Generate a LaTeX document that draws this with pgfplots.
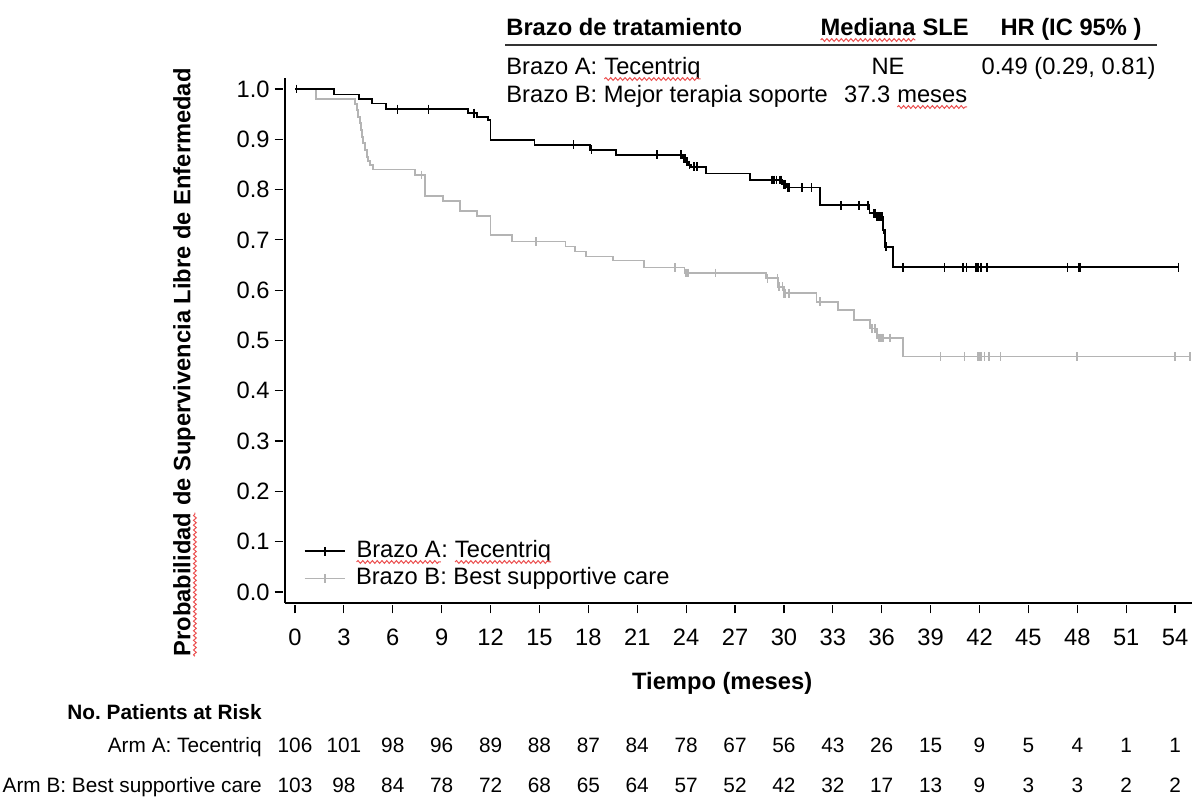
\documentclass[border=0pt]{standalone}
\usepackage{fontspec}
\setmainfont{Liberation Sans}
\usepackage{pgfplots}
\pgfplotsset{compat=1.18}
\usetikzlibrary{decorations.pathmorphing}
\definecolor{armB}{RGB}{180,180,180}
\definecolor{squigred}{RGB}{235,80,80}
\newcommand{\fmain}{\fontsize{11.85}{14}\selectfont}
\newcommand{\fsmall}{\fontsize{10.4}{12.5}\selectfont}
% spell-check style wavy underline
\newcommand{\squig}[1]{\tikz[baseline=(s.base)]{\node[inner sep=0pt, outer sep=0pt, anchor=base] (s) {#1};
  \draw[squigred, line width=0.5pt, decorate, decoration={snake, amplitude=0.7pt, segment length=2.4pt}]
  ([yshift=-2.3pt]s.base west) -- ([yshift=-2.3pt]s.base east);}}
\frenchspacing
\begin{document}
\frenchspacing
\begin{tikzpicture}
\useasboundingbox (0,0) rectangle (596pt,399pt);
\begin{axis}[
  at={(142.5pt,97.5pt)}, anchor=south west,
  scale only axis, width=453.5pt, height=262.5pt,
  xmin=-0.6136, xmax=55.04, ymin=-0.02187, ymax=1.02187,
  axis x line*=bottom, axis y line*=left,
  axis line style={line width=0.75pt, -},
  xtick={0,3,...,54},
  ytick={0,0.1,0.2,0.3,0.4,0.5,0.6,0.7,0.8,0.9,1.0},
  tick align=outside, major tick length=4.2pt,
  xtick style={line width=0.6pt, black, yshift=-1pt},
  ytick style={line width=0.6pt, black, xshift=-1pt},
  /pgf/number format/assume math mode=true,
  tick label style={font=\fmain},
  yticklabel style={/pgf/number format/.cd, fixed, fixed zerofill, precision=1},
  xticklabel style={anchor=north, yshift=-4.8pt, text height=8.7pt, text depth=0pt},
  xlabel={Tiempo (meses)},
  xlabel style={font=\fmain\bfseries, at={(axis description cs:0.482,-0.1524)}, anchor=center},
  ylabel={\squig{Probabilidad} de Supervivencia Libre de Enfermedad},
  ylabel style={font=\fmain\bfseries, at={(axis description cs:-0.1103,0.458)}, anchor=center},
  legend cell align=left,
  legend image code/.code={\draw[mark repeat=2,mark phase=2,#1] plot coordinates {(0pt,0pt) (10pt,0pt) (20pt,0pt)};},
  legend style={draw=none, fill=none, at={(axis description cs:0.0203,0.125)}, anchor=north west,
    inner sep=0pt, column sep=4.4pt, font=\fmain,
    nodes={inner sep=0.8pt, text height=9pt, text depth=3pt}},
  clip=false,
]
\addlegendimage{black, line width=0.9pt, mark=|, mark size=2.2pt}
\addlegendentry{\squig{Brazo A}: \squig{Tecentriq}}
\addlegendimage{armB, line width=0.9pt, mark=|, mark size=2.2pt}
\addlegendentry{Brazo B: Best supportive care}

% Arm B curve
\addplot[const plot, armB, line width=0.9pt, forget plot] coordinates {
(0,1.0)(1.3,0.98)(3.68,0.97)(3.78,0.958)(3.85,0.945)(3.99,0.932)(4.05,0.918)
(4.12,0.905)(4.19,0.892)(4.28,0.878)(4.4,0.865)(4.5,0.857)(4.6,0.849)(4.77,0.840)
(7.36,0.829)(7.98,0.787)(9.06,0.778)(10.1,0.758)(11.15,0.748)(12.0,0.710)
(13.3,0.697)(16.6,0.687)(17.2,0.677)(17.86,0.667)(19.5,0.659)(21.4,0.645)
(23.9,0.634)(28.9,0.6236)(29.65,0.607)(30.0,0.594)(32.0,0.577)(33.3,0.5606)
(34.3,0.5408)(35.3,0.524)(35.7,0.505)(37.3,0.468)(55.0,0.468)
};
\addplot[only marks, mark=|, mark size=2.2pt, armB, line width=0.8pt, forget plot] coordinates {
(7.77,0.829)(14.8,0.697)(23.3,0.645)(23.95,0.634)(24.0,0.634)(24.1,0.634)(25.8,0.634)
(29.0,0.6236)(29.6,0.6236)(29.7,0.607)(29.9,0.607)(30.0,0.594)(30.1,0.594)(30.3,0.594)
(32.2,0.577)(35.4,0.524)(35.6,0.524)(35.8,0.505)(35.9,0.505)(36.0,0.505)(36.1,0.505)
(36.5,0.505)(39.6,0.468)(41.07,0.468)(41.9,0.468)(42.0,0.468)(42.1,0.468)(42.3,0.468)
(42.6,0.468)(43.3,0.468)(48.0,0.468)(54.0,0.468)(54.9,0.468)
};

% Arm A curve
\addplot[const plot, black, line width=0.9pt, forget plot] coordinates {
(0,1.0)(2.4,0.989)(3.93,0.980)(4.7,0.971)(5.58,0.960)(10.6,0.952)(11.15,0.945)
(11.86,0.938)(12.0,0.899)(14.7,0.889)(18.1,0.879)(19.7,0.869)(23.83,0.862)
(23.99,0.8555)(24.15,0.849)(24.3,0.8456)(25.2,0.832)(27.9,0.819)(29.9,0.8105)
(30.2,0.804)(32.2,0.769)(35.25,0.753)(35.7,0.746)(36.06,0.72)(36.2,0.6866)
(36.7,0.6455)(54.2,0.6455)
};
\addplot[only marks, mark=|, mark size=2.2pt, black, line width=0.8pt, forget plot] coordinates {
(0.1,1.0)(6.28,0.96)(8.18,0.96)(11.0,0.952)(17.1,0.889)(18.2,0.879)(22.2,0.869)
(23.7,0.869)(23.85,0.862)(23.95,0.862)(24.05,0.8555)(24.2,0.849)(24.5,0.8456)(24.65,0.8456)
(29.25,0.819)(29.4,0.819)(29.55,0.819)(29.75,0.819)(29.85,0.819)(30.0,0.8105)(30.1,0.8105)
(30.25,0.804)(30.35,0.804)(31.1,0.804)(31.7,0.804)(33.5,0.769)(34.6,0.769)(35.15,0.769)
(35.2,0.769)(35.5,0.753)(35.6,0.753)(35.7,0.746)(35.8,0.746)(35.9,0.746)(36.0,0.746)
(36.1,0.72)(36.25,0.6866)(37.3,0.6455)(39.85,0.6455)(40.97,0.6455)(41.2,0.6455)
(41.8,0.6455)(41.9,0.6455)(42.1,0.6455)(42.45,0.6455)(47.4,0.6455)(48.1,0.6455)
(48.2,0.6455)(54.2,0.6455)
};

% numbers at risk
\addplot[draw=none, forget plot, nodes near coords, point meta=explicit symbolic,
  every node near coord/.style={anchor=center, font=\fsmall, inner sep=0pt}]
  table[meta=n] {
x y n
0 -0.3042 106
3 -0.3042 101
6 -0.3042 98
9 -0.3042 96
12 -0.3042 89
15 -0.3042 88
18 -0.3042 87
21 -0.3042 84
24 -0.3042 78
27 -0.3042 67
30 -0.3042 56
33 -0.3042 43
36 -0.3042 26
39 -0.3042 15
42 -0.3042 9
45 -0.3042 5
48 -0.3042 4
51 -0.3042 1
54 -0.3042 1
};
\addplot[draw=none, forget plot, nodes near coords, point meta=explicit symbolic,
  every node near coord/.style={anchor=center, font=\fsmall, inner sep=0pt}]
  table[meta=n] {
x y n
0 -0.3837 103
3 -0.3837 98
6 -0.3837 84
9 -0.3837 78
12 -0.3837 72
15 -0.3837 68
18 -0.3837 65
21 -0.3837 64
24 -0.3837 57
27 -0.3837 52
30 -0.3837 42
33 -0.3837 32
36 -0.3837 17
39 -0.3837 13
42 -0.3837 9
45 -0.3837 3
48 -0.3837 3
51 -0.3837 2
54 -0.3837 2
};
\end{axis}

% summary table
\begin{scope}[every node/.style={inner sep=0pt, font=\fmain}]
\node[anchor=base west, font=\fmain\bfseries] at (253pt,381.3pt) {Brazo de tratamiento};
\node[anchor=base east, font=\fmain\bfseries] at (484.5pt,381.3pt) {\squig{Mediana} SLE};
\node[anchor=base, font=\fmain\bfseries] at (535.5pt,381.3pt) {HR (IC 95\% )};
\draw[line width=0.6pt, black!80] (252.5pt,376.5pt) -- (578.5pt,376.5pt);
\node[anchor=base west] at (253pt,361.8pt) {Brazo A: \squig{Tecentriq}};
\node[anchor=base] at (444pt,361.8pt) {NE};
\node[anchor=base east] at (578pt,361.8pt) {0.49 (0.29, 0.81)};
\node[anchor=base west] at (253pt,347.8pt) {Brazo B: Mejor terapia soporte};
\node[anchor=base east] at (484pt,347.8pt) {37.3 \squig{meses}};
\end{scope}

% risk table labels
\begin{scope}[every node/.style={inner sep=0pt, font=\fsmall}]
\node[anchor=base east, font=\fsmall\bfseries] at (131pt,39.3pt) {No. Patients at Risk};
\node[anchor=base east] at (131pt,22.8pt) {Arm A: Tecentriq};
\node[anchor=base east] at (131pt,2.8pt) {Arm B: Best supportive care};
\end{scope}
\end{tikzpicture}
\end{document}
